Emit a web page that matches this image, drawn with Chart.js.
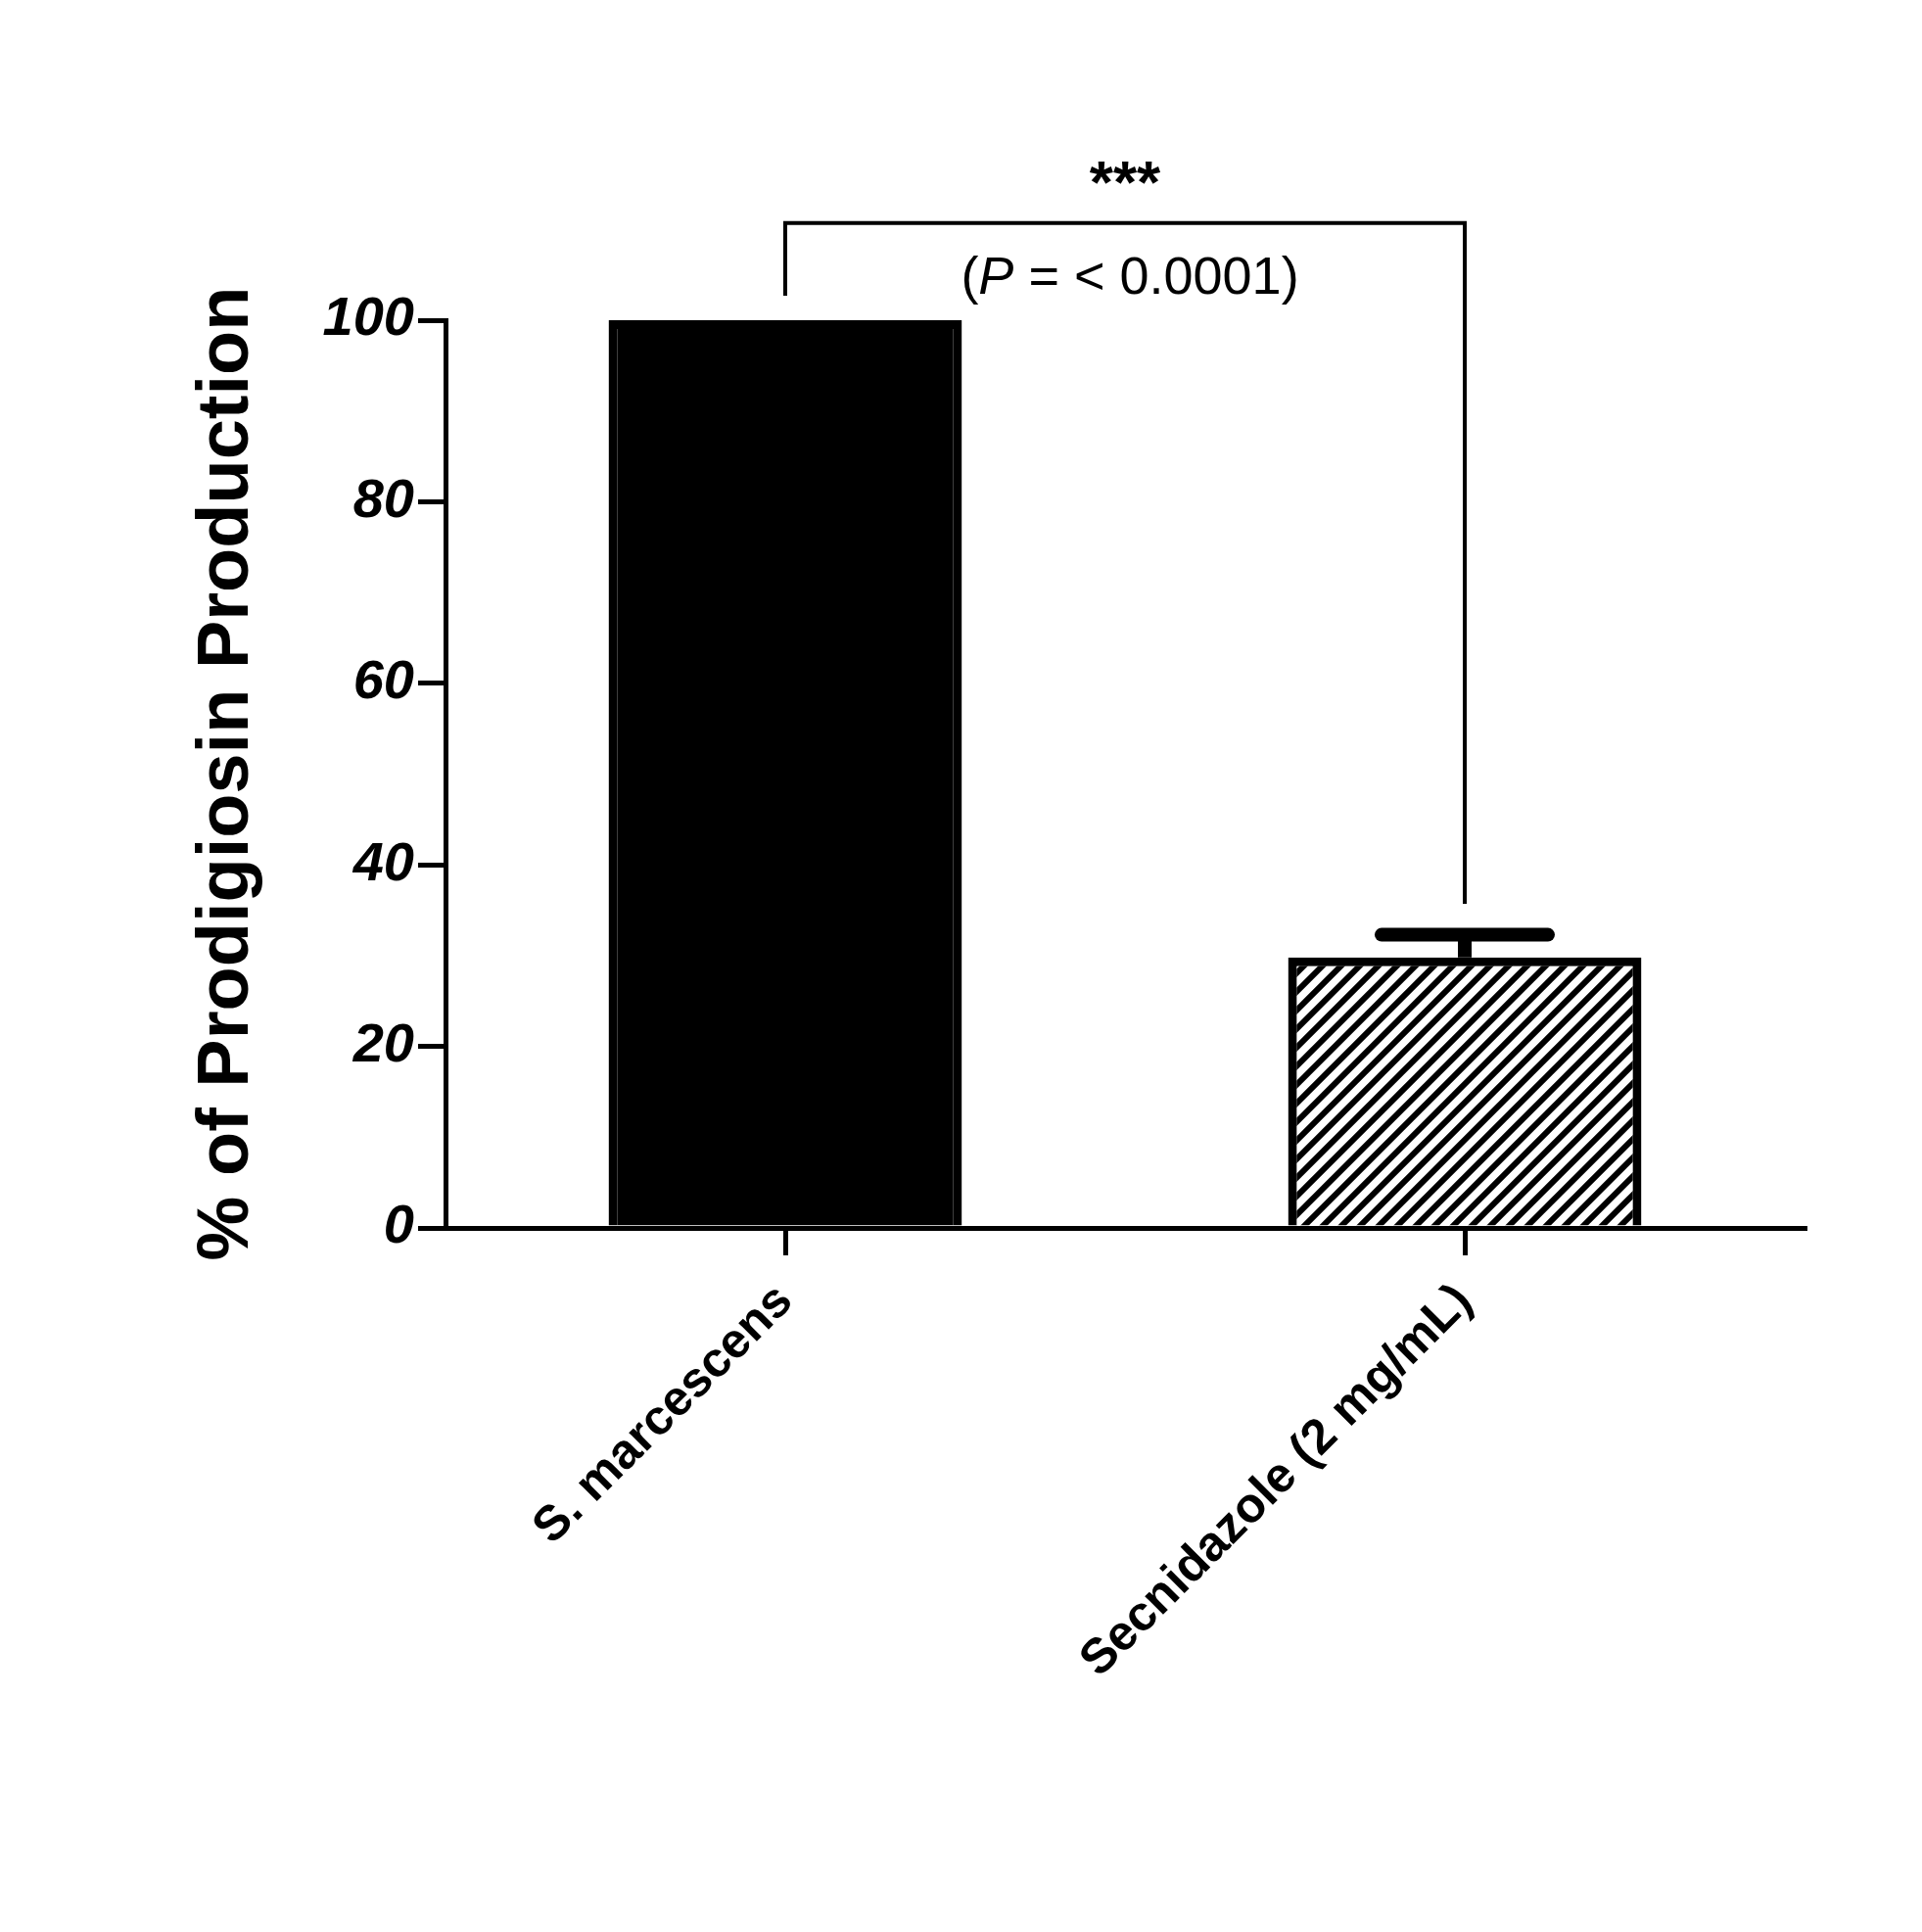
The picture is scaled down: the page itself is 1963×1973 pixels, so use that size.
<!DOCTYPE html>
<html>
<head>
<meta charset="utf-8">
<script src="https://cdn.jsdelivr.net/npm/chart.js@4"></script>
<style>
  body { margin: 0; background: #fff; }
  #wrap { width: 1963px; height: 1973px; }
</style>
</head>
<body>
<div id="wrap"><canvas id="chart"></canvas></div>
<script>
// data
const categories = ['S. marcescens', 'Secnidazole (2 mg/mL)'];
const values = [100, 29.8];
const errorsUp = [0, 2.5];
const yTicks = [0, 20, 40, 60, 80, 100];
const sigStars = '***';
const sigText = '< 0.0001)';

const FONT = '"Liberation Sans", Arial, sans-serif';

// hatch pattern for the second bar
function makeHatch() {
  const s = 19;
  const c = document.createElement('canvas');
  c.width = s; c.height = s;
  const g = c.getContext('2d');
  g.fillStyle = '#fff';
  g.fillRect(0, 0, s, s);
  g.strokeStyle = '#000';
  g.lineWidth = 6;
  g.beginPath();
  g.moveTo(-s, s * 2); g.lineTo(s * 2, -s);
  g.moveTo(-s, s); g.lineTo(s, -s);
  g.moveTo(0, s * 2); g.lineTo(s * 2, 0);
  g.stroke();
  return g.createPattern(c, 'repeat');
}

// error bars, bracket, significance and y title
const extras = {
  id: 'extras',
  afterDatasetsDraw(chart) {
    const ctx = chart.ctx;
    const x = chart.scales.x, y = chart.scales.y;
    ctx.save();
    ctx.strokeStyle = '#000';
    ctx.fillStyle = '#000';

    // error bars (upper only)
    values.forEach((v, i) => {
      if (!errorsUp[i]) return;
      const cx = x.getPixelForValue(i);
      const yt = y.getPixelForValue(v + errorsUp[i]);
      ctx.lineWidth = 14;
      ctx.lineCap = 'butt';
      ctx.beginPath();
      ctx.moveTo(cx, y.getPixelForValue(v));
      ctx.lineTo(cx, yt);
      ctx.stroke();
      ctx.lineCap = 'round';
      ctx.beginPath();
      ctx.moveTo(cx - 85, yt);
      ctx.lineTo(cx + 85, yt);
      ctx.stroke();
    });

    // significance bracket
    const x1 = x.getPixelForValue(0), x2 = x.getPixelForValue(1);
    const top = y.getPixelForValue(110.7);
    ctx.lineWidth = 4;
    ctx.lineCap = 'butt';
    ctx.beginPath();
    ctx.moveTo(x1, y.getPixelForValue(102.7));
    ctx.lineTo(x1, top);
    ctx.lineTo(x2, top);
    ctx.lineTo(x2, y.getPixelForValue(35.7));
    ctx.stroke();

    const mid = (x1 + x2) / 2;
    ctx.textAlign = 'center';
    ctx.textBaseline = 'middle';
    ctx.font = 'bold 62px ' + FONT;
    ctx.fillText(sigStars, mid, 190);

    // "(P = < 0.0001)" with italic P
    const parts = [['(', 'normal'], ['P', 'italic'], [' = ' + sigText, 'normal']];
    let total = 0;
    parts.forEach(p => { ctx.font = p[1] + ' 54px ' + FONT; total += ctx.measureText(p[0]).width; });
    let px = mid - total / 2 + 5;
    ctx.textAlign = 'left';
    parts.forEach(p => {
      ctx.font = p[1] + ' 54px ' + FONT;
      ctx.fillText(p[0], px, 285);
      px += ctx.measureText(p[0]).width;
    });

    // y axis title
    ctx.translate(233, 790);
    ctx.rotate(-Math.PI / 2);
    ctx.textAlign = 'center';
    ctx.font = 'bold 74px ' + FONT;
    ctx.fillText('% of Prodigiosin Production', 0, 0);
    ctx.restore();
  }
};

new Chart(document.getElementById('chart'), {
  type: 'bar',
  data: {
    labels: categories,
    datasets: [{
      data: values,
      backgroundColor: ['#000', makeHatch()],
      borderColor: '#000',
      borderWidth: 9,
      borderSkipped: 'bottom',
      barPercentage: 0.52,
      categoryPercentage: 1
    }]
  },
  options: {
    responsive: true,
    maintainAspectRatio: false,
    animation: false,
    layout: { padding: { top: 327, right: 120, left: 0, bottom: 0 } },
    plugins: { legend: { display: false }, tooltip: { enabled: false } },
    scales: {
      x: {
        offset: true,
        afterFit: s => { s.height = 1973 - 327 - 927; },
        border: { color: '#000', width: 5 },
        grid: { drawOnChartArea: false, color: '#000', lineWidth: 5, tickLength: 28, offset: false },
        ticks: {
          color: '#000',
          minRotation: 45,
          maxRotation: 45,
          padding: 18,
          font: { family: FONT, size: 50, weight: 'bold' }
        }
      },
      y: {
        min: 0,
        max: 100,
        afterFit: s => { s.width = 455; },
        afterBuildTicks: s => { s.ticks = yTicks.map(v => ({ value: v })); },
        border: { color: '#000', width: 5 },
        grid: { drawOnChartArea: false, color: '#000', lineWidth: 5, tickLength: 28 },
        ticks: {
          color: '#000',
          padding: 4,
          font: { family: FONT, size: 56, weight: 'bold', style: 'italic' }
        }
      }
    }
  },
  plugins: [extras]
});
</script>
</body>
</html>
